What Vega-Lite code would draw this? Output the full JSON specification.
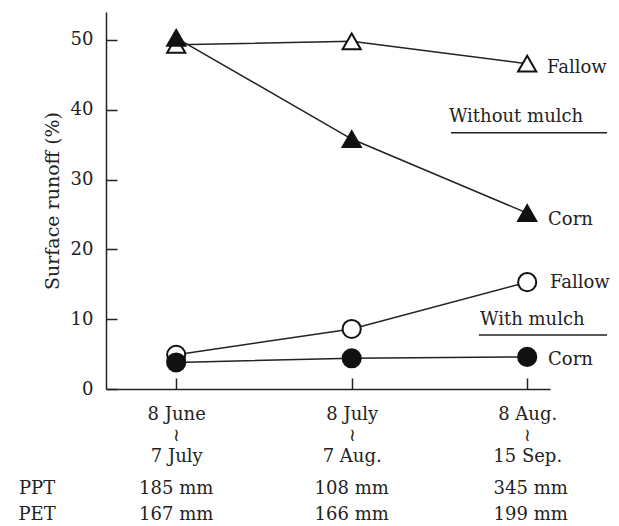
{
  "$schema": "https://vega.github.io/schema/vega-lite/v6.json",
  "width": 444,
  "height": 377,
  "autosize": {"type": "none"},
  "padding": {"left": 106, "top": 12, "right": 69, "bottom": 137},
  "background": "white",
  "config": {
    "view": {"stroke": null},
    "font": "DejaVu Serif",
    "axis": {
      "grid": false,
      "domainColor": "#222",
      "tickColor": "#222",
      "domainWidth": 1.5,
      "tickWidth": 1.5,
      "labelColor": "#222",
      "titleColor": "#222",
      "labelFont": "DejaVu Serif",
      "titleFont": "DejaVu Serif",
      "labelFontSize": 18,
      "titleFontSize": 19,
      "titleFontWeight": "normal"
    }
  },
  "datasets": {
    "runoff": [
      {"period": 1, "series": "Fallow, without mulch", "runoff": 49.3},
      {"period": 2, "series": "Fallow, without mulch", "runoff": 49.8},
      {"period": 3, "series": "Fallow, without mulch", "runoff": 46.6},
      {"period": 1, "series": "Corn, without mulch", "runoff": 50.3},
      {"period": 2, "series": "Corn, without mulch", "runoff": 35.8},
      {"period": 3, "series": "Corn, without mulch", "runoff": 25.2},
      {"period": 1, "series": "Fallow, with mulch", "runoff": 4.9},
      {"period": 2, "series": "Fallow, with mulch", "runoff": 8.6},
      {"period": 3, "series": "Fallow, with mulch", "runoff": 15.3},
      {"period": 1, "series": "Corn, with mulch", "runoff": 3.8},
      {"period": 2, "series": "Corn, with mulch", "runoff": 4.4},
      {"period": 3, "series": "Corn, with mulch", "runoff": 4.6}
    ],
    "notes": [
      {"x": 3.113, "y": 46.0, "label": "Fallow"},
      {"x": 2.554, "y": 39.0, "label": "Without mulch"},
      {"x": 3.119, "y": 24.2, "label": "Corn"},
      {"x": 3.13, "y": 15.2, "label": "Fallow"},
      {"x": 2.731, "y": 9.9, "label": "With mulch"},
      {"x": 3.119, "y": 4.2, "label": "Corn"}
    ],
    "underlines": [
      {"x": 2.566, "x2": 3.455, "y": 36.7},
      {"x": 2.725, "x2": 3.455, "y": 7.74}
    ],
    "climate": [
      {"x": 0.207, "y": -14.3, "label": "PPT"},
      {"x": 0.207, "y": -18.05, "label": "PET"},
      {"x": 1.0, "y": -14.3, "label": "185 mm"},
      {"x": 2.0, "y": -14.3, "label": "108 mm"},
      {"x": 3.02, "y": -14.3, "label": "345 mm"},
      {"x": 1.0, "y": -18.05, "label": "167 mm"},
      {"x": 2.0, "y": -18.05, "label": "166 mm"},
      {"x": 3.02, "y": -18.05, "label": "199 mm"}
    ]
  },
  "encoding": {
    "x": {
      "field": "x",
      "type": "quantitative",
      "scale": {"domain": [0.6, 3.13], "nice": false, "zero": false}
    },
    "y": {
      "field": "y",
      "type": "quantitative",
      "scale": {"domain": [0, 54], "nice": false, "zero": false}
    }
  },
  "layer": [
    {
      "data": {"name": "runoff"},
      "mark": {"type": "line", "color": "#222", "strokeWidth": 1.5},
      "encoding": {
        "x": {
          "field": "period",
          "type": "quantitative",
          "axis": {
            "values": [1, 2, 3],
            "tickSize": -11,
            "labelExpr": "datum.value == 1 ? ['8 June', '≀', '7 July'] : datum.value == 2 ? ['8 July', '≀', '7 Aug.'] : ['8 Aug.', '≀', '15 Sep.']",
            "labelLineHeight": 21,
            "labelBaseline": "top",
            "labelPadding": 27,
            "title": null
          }
        },
        "y": {
          "field": "runoff",
          "type": "quantitative",
          "axis": {
            "values": [0, 10, 20, 30, 40, 50],
            "tickSize": -11,
            "labelPadding": 24,
            "title": "Surface runoff (%)",
            "titlePadding": 8
          }
        },
        "detail": {"field": "series"}
      }
    },
    {
      "data": {"name": "runoff"},
      "mark": {"type": "point", "filled": true, "stroke": "#111", "strokeWidth": 2, "opacity": 1, "size": 330},
      "encoding": {
        "x": {"field": "period", "type": "quantitative"},
        "y": {"field": "runoff", "type": "quantitative"},
        "shape": {
          "field": "series",
          "type": "nominal",
          "scale": {
            "domain": ["Fallow, without mulch", "Corn, without mulch", "Fallow, with mulch", "Corn, with mulch"],
            "range": ["triangle-up", "triangle-up", "circle", "circle"]
          },
          "legend": null
        },
        "fill": {
          "field": "series",
          "type": "nominal",
          "scale": {
            "domain": ["Fallow, without mulch", "Corn, without mulch", "Fallow, with mulch", "Corn, with mulch"],
            "range": ["white", "#111", "white", "#111"]
          },
          "legend": null
        }
      }
    },
    {
      "data": {"name": "notes"},
      "mark": {"type": "text", "align": "left", "baseline": "middle", "fontSize": 18, "color": "#222"},
      "encoding": {"text": {"field": "label"}}
    },
    {
      "data": {"name": "underlines"},
      "mark": {"type": "rule", "color": "#222", "strokeWidth": 1.5},
      "encoding": {"x2": {"field": "x2"}}
    },
    {
      "data": {"name": "climate"},
      "mark": {"type": "text", "align": "center", "baseline": "middle", "fontSize": 18, "color": "#222"},
      "encoding": {"text": {"field": "label"}}
    }
  ]
}
